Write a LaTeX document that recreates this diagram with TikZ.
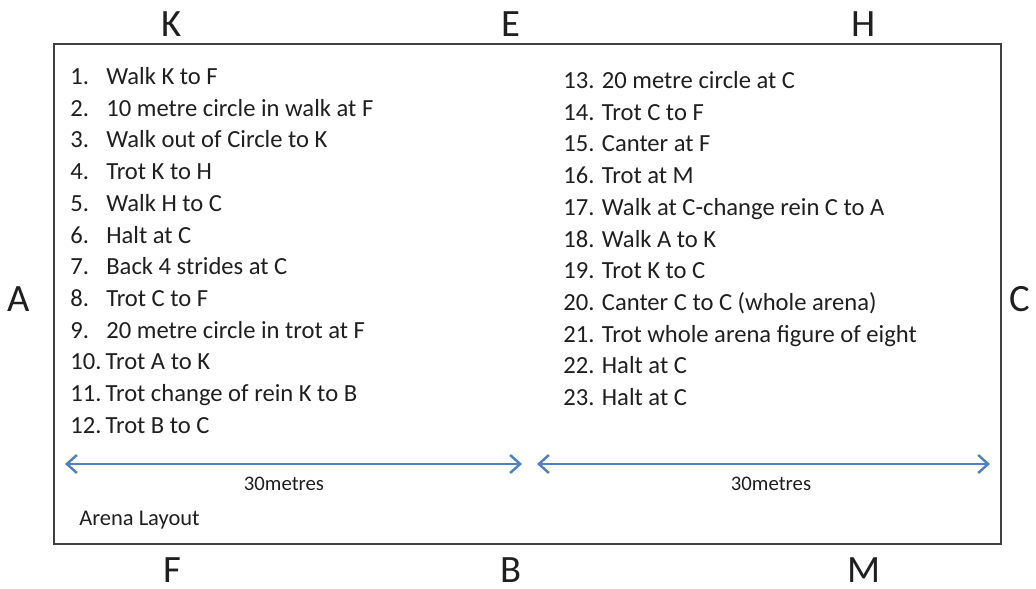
\documentclass[tikz,border=0pt]{standalone}
\usepackage{fontspec}
\setmainfont{Carlito}
\usepackage{tikz}
\usetikzlibrary{calc,arrows.meta}

\definecolor{arenablue}{RGB}{79,129,189}
\newcommand{\itm}[2]{\makebox[0.72cm][l]{#1}#2}

\begin{document}
\begin{tikzpicture}[every node/.style={text=black!88}]
\tikzstyle{marker}=[inner sep=0pt,font=\fontsize{22}{24}\selectfont]
\tikzstyle{steps}=[inner sep=0pt,anchor=north west,align=left,font=\fontsize{14}{18.05}\selectfont]
\tikzstyle{span}=[arenablue,line width=1.2pt,{Straight Barb[length=2mm,width=3.6mm,line width=1.4pt]}-{Straight Barb[length=2mm,width=3.6mm,line width=1.4pt]}]

\useasboundingbox (0,0) rectangle (20.72,11.78);

\node (arena) [draw=black!75,line width=1.3pt,minimum width=18.94cm,minimum height=10cm,anchor=south west] at (1.06,0.88) {};

\node (K) [marker] at (3.44,11.29) {K};
\node (E) [marker] at (10.22,11.29) {E};
\node (H) [marker] at (17.28,11.29) {H};
\node (F) [marker] at (3.44,0.37) {F};
\node (B) [marker] at (10.22,0.37) {B};
\node (M) [marker] at (17.28,0.37) {M};
\node (A) [marker] at (0.38,5.8) {A};
\node (C) [marker] at (20.4,5.8) {C};

\node (left list) [steps] at (1.4,10.44) {%
\itm{1.}{Walk K to F}\\
\itm{2.}{10 metre circle in walk at F}\\
\itm{3.}{Walk out of Circle to K}\\
\itm{4.}{Trot K to H}\\
\itm{5.}{Walk H to C}\\
\itm{6.}{Halt at C}\\
\itm{7.}{Back 4 strides at C}\\
\itm{8.}{Trot C to F}\\
\itm{9.}{20 metre circle in trot at F}\\
10.\,Trot A to K\\
11.\,Trot change of rein K to B\\
12.\,Trot B to C};

\node (right list) [steps] at (11.26,10.36) {%
13. 20 metre circle at C\\
14. Trot C to F\\
15. Canter at F\\
16. Trot at M\\
17. Walk at C-change rein C to A\\
18. Walk A to K\\
19. Trot K to C\\
20. Canter C to C (whole arena)\\
21. Trot whole arena figure of eight\\
22. Halt at C\\
23. Halt at C};

\coordinate (l1) at (1.3,2.5);
\coordinate (l2) at (10.44,2.5);
\coordinate (r1) at (10.74,2.5);
\coordinate (r2) at (19.8,2.5);
\draw [span] (l1) -- (l2);
\draw [span] (r1) -- (r2);

\node (width1) [font=\fontsize{11.8}{13}\selectfont] at (5.68,2.1) {30metres};
\node (width2) [font=\fontsize{11.8}{13}\selectfont] at (15.42,2.1) {30metres};
\node (title) [font=\fontsize{12.8}{14}\selectfont,anchor=west,inner sep=0pt] at (1.58,1.38) {Arena Layout};
\end{tikzpicture}
\end{document}
